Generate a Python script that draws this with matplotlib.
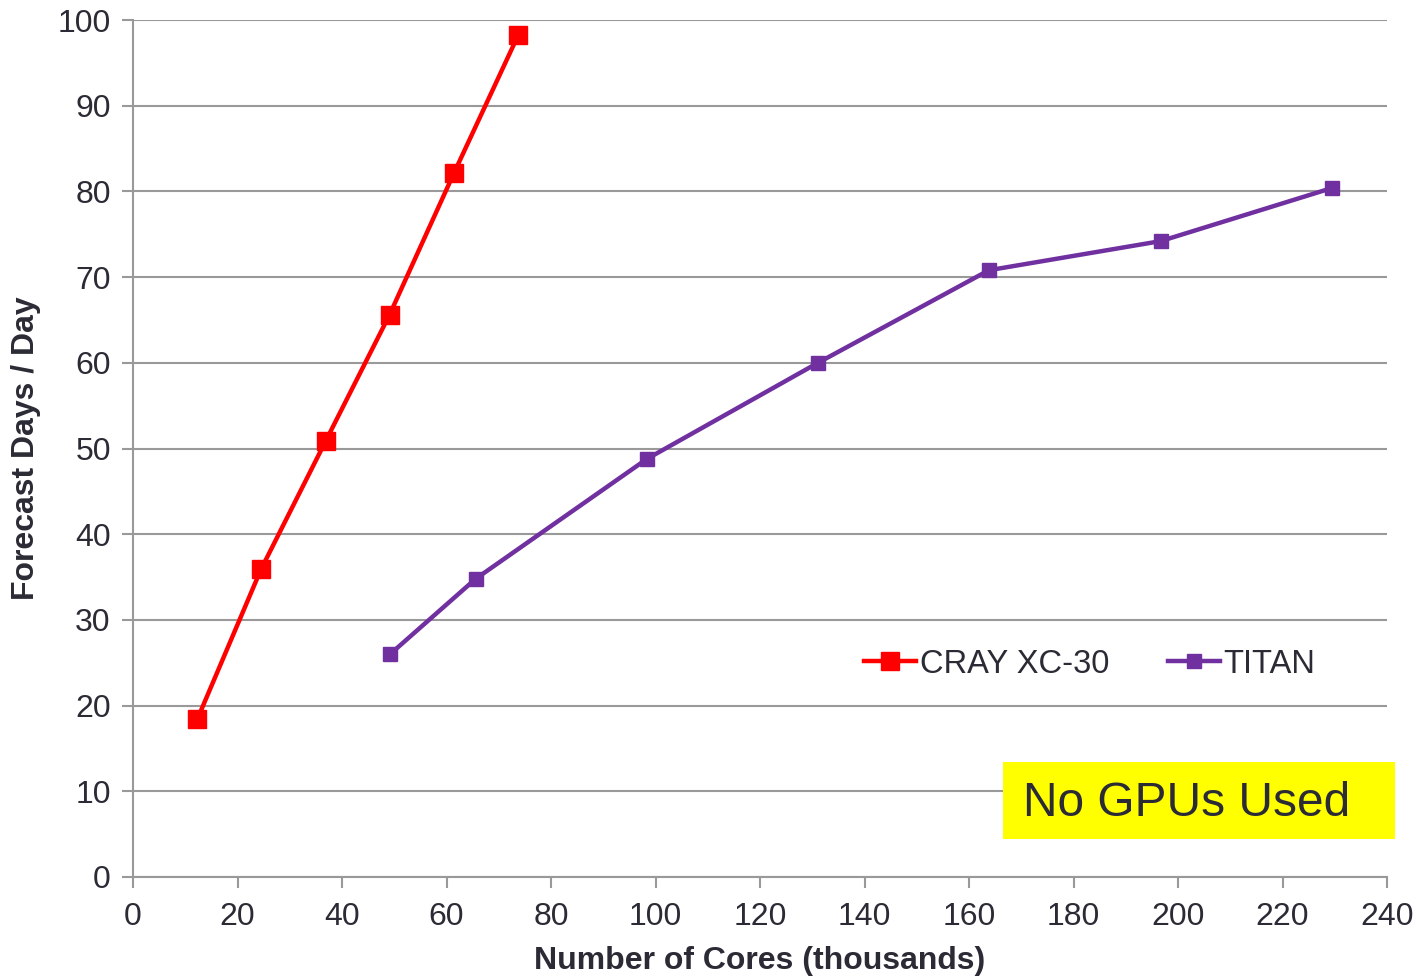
import matplotlib.pyplot as plt
from matplotlib.patches import Rectangle

plt.rcParams['font.family'] = ['Liberation Sans', 'DejaVu Sans']

cray_cores = [12.3, 24.5, 36.9, 49.1, 61.4, 73.7]
cray_fdpd = [18.4, 35.9, 50.9, 65.6, 82.1, 98.2]
titan_cores = [49.2, 65.6, 98.4, 131.1, 163.8, 196.7, 229.5]
titan_fdpd = [26.0, 34.8, 48.8, 60.0, 70.8, 74.2, 80.4]

txt = '#2b2b36'
grid = '#999999'

fig = plt.figure(figsize=(14.2, 9.77), dpi=100)
ax = fig.add_axes([133/1420, 1 - 877/977, (1387-133)/1420, (877-20)/977])

ax.plot(cray_cores, cray_fdpd, '-s', color='#ff0000', lw=3.2, ms=13, label='CRAY XC-30')
ax.plot(titan_cores, titan_fdpd, '-s', color='#7030a0', lw=3.2, ms=10, label='TITAN')

ax.set_xlim(0, 240)
ax.set_ylim(0, 100)
ax.set_xticks(range(0, 241, 20))
ax.set_yticks(range(0, 101, 10))
ax.grid(axis='y', color=grid, lw=1.5)
ax.set_axisbelow(True)
for s in ['top', 'right']:
    ax.spines[s].set_visible(False)
for s in ['left', 'bottom']:
    ax.spines[s].set_color(grid)
    ax.spines[s].set_linewidth(1.5)
ax.tick_params(axis='both', colors=grid, labelcolor=txt, labelsize=23, width=1.5, length=8)
ax.tick_params(axis='x', pad=10)
ax.tick_params(axis='y', pad=8)

ax.set_xlabel('Number of Cores (thousands)', fontsize=23, fontweight='bold', color=txt, labelpad=10)
ax.set_ylabel('Forecast Days / Day', fontsize=23, fontweight='bold', color=txt, labelpad=12)

ax.legend(loc='center left', bbox_to_anchor=(0.5596, 0.2485), ncol=2, frameon=False,
          fontsize=23.5, labelcolor=txt, handlelength=1.6, handletextpad=0.1, columnspacing=1.8)

fig.patches.append(Rectangle((1003/1420, 1 - 839/977), (1395-1003)/1420, (839-762)/977,
                             transform=fig.transFigure, facecolor='#ffff00', edgecolor='none'))
fig.text(1023/1420, 1 - 803/977, 'No GPUs Used', fontsize=34.5, color=txt, va='center', ha='left')

fig.savefig('out.png', dpi=100)
